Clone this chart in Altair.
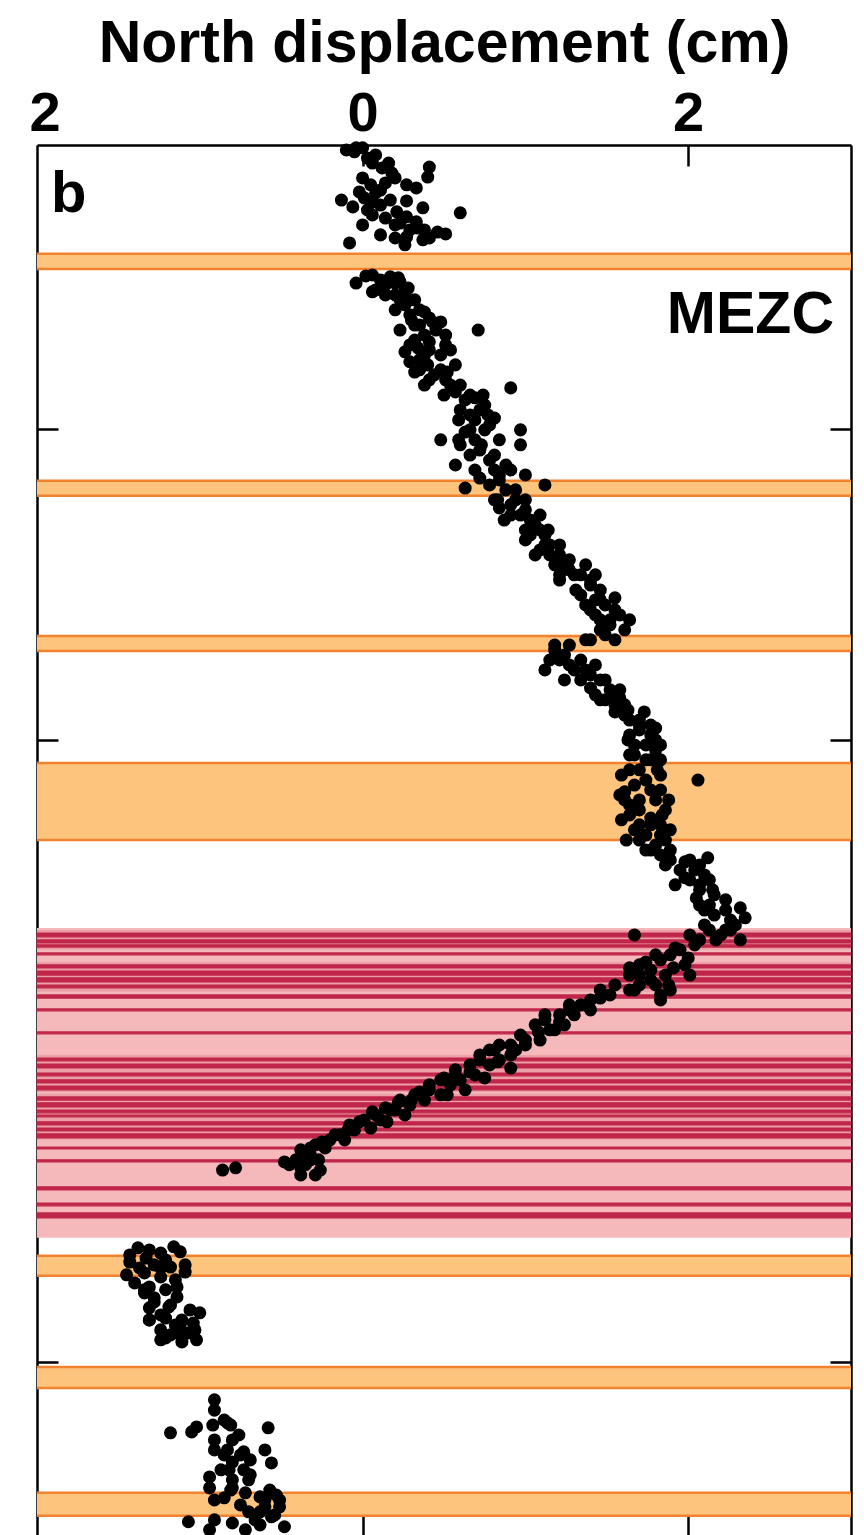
import altair as alt
import pandas as pd

# ---------------- data ----------------
# vertical variable: unlabelled time axis (ticks at 10, 20, 30, 40), increasing downward
T_DOMAIN = [0.87, 45.63]
T_TICKS = [10, 20, 30, 40]
X_DOMAIN = [-2, 3]
X_LABELS = [-2, 0, 2]

# orange bands (events)
ORANGE_START = [4.37, 11.67, 16.66, 20.74, 36.59, 40.16, 44.21]
ORANGE_END = [4.86, 12.15, 17.14, 23.22, 37.23, 40.84, 44.95]

# pink zone (swarm), medium-shade clusters and dark individual lines
RED_START = [26.05]
RED_END = [36.01]
RED_MID_START = [26.11, 27.14, 30.13, 31.38]
RED_MID_END = [26.75, 28.10, 31.32, 32.86]
RED_DARK_START = [26.21, 26.43, 26.59, 26.85, 27.23, 27.43, 27.65, 27.88, 28.20, 28.65,
                  29.39, 30.23, 30.42, 30.71, 30.93, 31.13, 31.48, 31.67, 31.90, 32.06,
                  32.28, 32.48, 32.67, 33.09, 33.50, 34.37, 34.89, 35.21]
RED_DARK_END = [26.33, 26.53, 26.66, 26.91, 27.33, 27.56, 27.78, 27.97, 28.30, 28.71,
                29.45, 30.32, 30.55, 30.80, 31.03, 31.25, 31.58, 31.80, 31.99, 32.12,
                32.38, 32.57, 32.80, 33.15, 33.57, 34.47, 34.98, 35.37]

# north displacement samples (cm) and their times
SEG_A_T = [1.03, 1.09, 0.96, 1.19, 1.45, 1.45, 1.77, 1.93, 1.58, 1.90, 2.09, 2.32, 2.41,
           2.15, 2.25, 2.64, 2.57, 2.70, 2.86, 2.67, 2.89, 2.96, 3.12, 3.22, 3.02, 3.18,
           3.05, 3.44, 3.38, 3.34, 3.54, 3.60, 3.67, 3.73, 4.02, 3.86, 3.83, 3.92, 4.08,
           0.96, 1.29, 1.61, 1.93, 2.15, 2.38, 2.64, 2.80, 3.44, 3.60, 3.76, 3.86]
SEG_A_X = [-0.10, -0.05, 0.00, 0.08, 0.06, 0.16, 0.18, 0.00, 0.41, 0.40, 0.14, 0.11, 0.08,
           0.27, 0.33, -0.13, 0.01, 0.06, -0.06, 0.27, 0.37, 0.03, 0.06, 0.14, 0.21, 0.27,
           0.60, 0.00, 0.23, 0.33, 0.34, 0.38, 0.46, 0.51, -0.08, 0.20, 0.27, 0.37, 0.26,
           -0.04, 0.03, 0.12, 0.20, 0.05, -0.02, 0.17, 0.11, 0.20, 0.29, 0.11, 0.41]

SEG_B_T = [5.31, 5.53, 5.11, 5.27, 5.69, 5.85, 5.37, 6.01, 6.17, 6.43, 6.66, 6.56, 6.98,
           6.82, 7.30, 7.46, 7.30, 7.78, 8.10, 7.94, 8.42, 8.17, 8.59, 8.91, 9.23, 9.39,
           9.71, 8.68, 9.87, 10.10, 10.35, 10.51, 10.68, 10.84, 10.51, 11.16, 11.32, 11.48,
           11.80, 11.80, 11.90, 12.28, 12.44, 12.77, 12.93, 12.93, 13.25, 13.57, 13.73,
           14.05, 14.37, 14.69, 15.02, 14.86, 15.50, 15.82, 15.34, 16.30, 15.98, 16.46,
           16.78, 16.46, 16.78, 16.95, 17.11, 17.43, 17.75, 17.91, 18.07, 17.75, 18.39,
           18.71, 18.87, 19.20, 19.36, 19.52, 19.84, 20.16, 20.00, 20.48, 20.64, 20.96,
           21.29, 21.13, 21.67, 21.93, 22.25, 22.41, 22.73, 22.89, 23.22, 23.38, 21.29,
           23.70, 23.86, 24.18, 24.50, 24.66, 24.82, 24.50, 23.79, 25.31, 25.63, 25.79,
           25.72, 25.95, 26.11, 26.43, 26.27, 26.27, 26.75, 27.07, 27.23, 27.56, 27.88,
           28.04, 27.56, 28.20,
           5.05, 5.21, 5.31, 5.53, 5.69, 5.85, 5.85, 6.33, 6.24, 6.66, 6.82, 7.14, 7.20,
           7.62, 7.62, 8.10, 8.26, 8.42,
           8.81, 9.07, 9.00, 9.39, 9.55, 9.65, 10.03, 10.35, 10.35, 11.00, 11.16, 11.32,
           11.64, 11.96,
           12.54, 12.28, 12.60, 13.09, 13.41, 13.41, 13.73, 13.89, 14.05, 14.37,
           14.53, 14.69, 14.86, 15.18, 15.50, 15.66, 15.82, 15.98, 16.14,
           16.95, 17.27, 17.43, 17.75, 17.59, 18.07, 18.33, 18.39, 18.71, 18.87,
           19.36, 19.68, 19.84, 20.16, 20.32, 20.64, 20.96,
           21.45, 21.61, 21.93, 21.93, 22.25, 22.51, 22.73, 22.89, 23.06, 23.22, 23.54,
           23.54, 23.92, 24.18, 24.34, 24.66, 24.98, 25.31, 25.47, 25.95, 26.27, 26.43, 26.11,
           26.91, 27.23, 27.40, 27.56, 27.88, 28.04, 28.36,
           5.08, 5.14, 5.59, 5.47, 6.17, 6.50, 6.56, 6.82, 6.98,
           7.52, 7.39, 7.46, 7.94, 7.84, 8.17, 8.59,
           8.59, 8.91, 8.91, 9.71, 9.55, 10.03, 10.35, 10.03,
           10.51, 10.84, 11.32, 11.58, 11.48, 11.96, 12.28,
           12.28, 12.77, 12.77, 13.25, 13.25, 13.73, 14.05, 14.21,
           14.37, 14.69, 14.69, 15.18, 15.43, 15.66, 16.14, 16.14, 16.62, 16.78,
           17.43, 17.59, 18.07, 18.07, 18.55, 18.71, 18.65,
           19.10, 19.04, 19.10, 19.52, 19.62, 20.00, 20.16, 20.48, 20.64,
           21.13, 20.96, 21.77, 21.61, 22.09, 21.93, 22.57, 22.41, 22.73, 23.22, 23.06, 23.54,
           24.02, 23.86, 24.02, 24.43, 24.82, 25.08, 25.14, 25.47, 25.40, 26.11, 26.43,
           26.59, 26.69, 26.91, 27.01, 27.14, 27.33, 27.33, 27.72, 28.04, 27.88, 27.56]
SEG_B_X = [-0.04, 0.08, 0.17, 0.23, 0.20, 0.29, 0.14, 0.26, 0.35, 0.41, 0.32, 0.48, 0.38,
           0.71, 0.29, 0.41, 0.51, 0.35, 0.48, 0.57, 0.41, 0.32, 0.54, 0.66, 0.75, 0.60,
           0.69, 0.91, 0.78, 0.63, 0.48, 0.60, 0.72, 0.81, 0.97, 0.57, 0.69, 0.84,
           0.78, 1.12, 0.63, 0.81, 0.91, 0.97, 1.03, 0.87, 1.09, 1.00, 1.12,
           1.15, 1.24, 1.30, 1.40, 1.21, 1.46, 1.55, 1.34, 1.52, 1.43, 1.46,
           1.55, 1.61, 1.40, 1.27, 1.18, 1.21, 1.30, 1.40, 1.49, 1.12, 1.58,
           1.46, 1.55, 1.61, 1.70, 1.77, 1.64, 1.74, 1.80, 1.67, 1.77, 1.64,
           1.74, 1.83, 1.61, 1.70, 1.86, 1.64, 1.77, 1.89, 1.70, 1.80, 2.06,
           1.83, 1.89, 1.95, 2.01, 1.92, 2.07, 2.13, 2.12, 2.07, 2.16, 2.26,
           2.35, 2.10, 2.23, 2.32, 2.01, 1.67, 1.95, 1.83, 1.70, 1.64, 1.80,
           1.89, 2.01, 1.83,
           0.06, 0.11, 0.20, 0.26, 0.14, 0.23, 0.32, 0.29, 0.38, 0.35, 0.45, 0.32, 0.41,
           0.38, 0.48, 0.35, 0.44, 0.51,
           0.57, 0.63, 0.69, 0.72, 0.66, 0.81, 0.75, 0.69, 0.84, 0.78, 0.88, 0.91,
           0.84, 0.94,
           0.84, 0.94, 1.00, 1.06, 1.03, 1.12, 1.15, 1.09, 1.21, 1.18,
           1.27, 1.34, 1.40, 1.46, 1.43, 1.49, 1.40, 1.58, 1.52,
           1.18, 1.24, 1.34, 1.37, 1.43, 1.46, 1.40, 1.52, 1.55, 1.61,
           1.64, 1.70, 1.77, 1.67, 1.80, 1.74, 1.70,
           1.67, 1.77, 1.61, 1.80, 1.70, 1.77, 1.83, 1.67, 1.74, 1.86, 1.77,
           1.89, 1.98, 2.04, 2.10, 2.07, 2.16, 2.13, 2.23, 2.29, 2.20, 2.07, 2.13,
           1.89, 1.98, 1.77, 1.86, 1.70, 1.64, 1.83,
           0.02, 0.22, 0.06, 0.28, 0.20, 0.30, 0.43, 0.23, 0.51,
           0.26, 0.34, 0.54, 0.40, 0.29, 0.52, 0.38,
           0.60, 0.50, 0.74, 0.59, 0.77, 0.66, 0.59, 0.97,
           0.73, 0.66, 0.81, 0.72, 1.00, 0.88, 0.83,
           1.00, 0.91, 1.09, 1.00, 1.14, 1.21, 1.06, 1.27,
           1.37, 1.21, 1.43, 1.31, 1.55, 1.37, 1.46, 1.64, 1.49, 1.37,
           1.15, 1.27, 1.24, 1.34, 1.43, 1.49, 1.58,
           1.55, 1.63, 1.73, 1.70, 1.80, 1.63, 1.83, 1.64, 1.83,
           1.59, 1.81, 1.58, 1.83, 1.64, 1.88, 1.59, 1.84, 1.70, 1.62, 1.83, 1.74,
           1.86, 2.01, 2.07, 1.98, 2.15, 2.05, 2.23, 2.10, 2.32, 2.26, 2.17,
           2.04, 1.92, 1.80, 2.00, 1.74, 1.64, 1.91, 1.77, 1.67, 1.88, 1.70]

SEG_C_T = [28.04, 28.36, 28.52, 28.84, 29.00, 29.16, 29.32, 29.49, 29.81, 29.97, 30.13,
           30.29, 30.45, 30.77, 30.93, 31.25, 31.41, 31.58, 31.90, 32.06, 32.22, 32.38,
           32.70, 32.86, 33.02, 33.18, 33.50, 33.66, 33.83, 33.99, 33.76, 33.83,
           28.20, 28.52, 28.84, 29.16, 29.32, 29.65, 29.81, 29.97, 30.29, 30.45, 30.55,
           30.77, 30.93, 31.09, 31.25, 31.41, 31.58, 31.74, 31.90, 32.06, 32.22, 32.48,
           32.54, 32.86, 33.12, 33.34, 33.66, 33.50, 33.99,
           27.88, 28.30, 28.68, 28.68, 29.07, 28.84, 29.39, 29.65, 29.81, 29.97, 30.13,
           30.35, 30.68, 30.87, 30.61, 30.87, 31.09, 31.41, 31.32, 31.58, 31.64, 31.83,
           31.96, 32.28, 32.28, 32.54, 32.70, 32.93, 33.12, 33.44, 33.57, 33.76, 33.50]
SEG_C_X = [1.46, 1.40, 1.27, 1.21, 1.12, 1.06, 1.18, 0.97, 0.84, 0.78, 0.91,
           0.72, 0.66, 0.57, 0.48, 0.41, 0.32, 0.23, 0.17, 0.08, 0.01, -0.08,
           -0.14, -0.20, -0.29, -0.38, -0.32, -0.45, -0.26, -0.38, -0.78, -0.86,
           1.52, 1.34, 1.30, 1.24, 1.15, 1.09, 1.00, 0.94, 0.84, 0.78, 0.91,
           0.69, 0.60, 0.54, 0.63, 0.48, 0.38, 0.29, 0.20, 0.26, 0.11, 0.05,
           -0.05, -0.11, -0.23, -0.32, -0.35, -0.41, -0.29,
           1.55, 1.46, 1.40, 1.27, 1.21, 1.12, 1.08, 1.00, 0.91, 0.81, 0.72,
           0.83, 0.66, 0.75, 0.57, 0.50, 0.41, 0.52, 0.35, 0.30, 0.22, 0.14,
           0.06, 0.15, -0.02, -0.09, -0.17, -0.25, -0.32, -0.38, -0.48, -0.38, -0.27]

SEG_D_T = [36.33, 36.56, 36.66, 36.50, 36.30, 36.46, 36.72, 36.88, 36.95, 37.11, 37.20,
           37.14, 37.27, 37.46, 37.59, 37.59, 37.78, 37.68, 37.94, 37.91, 38.26, 38.23,
           38.42, 38.65, 38.59, 38.65, 38.75, 38.97, 39.07, 39.23, 39.36, 39.29, 39.07,
           36.40, 36.79, 36.98, 37.36, 38.07, 38.49, 38.81, 39.13,
           36.79, 36.98, 36.88, 37.68, 38.17, 38.33, 38.65, 38.81, 38.97, 39.29]
SEG_D_X = [-1.38, -1.43, -1.33, -1.24, -1.16, -1.12, -1.21, -1.28, -1.18, -1.09, -1.45,
           -1.34, -1.24, -1.40, -1.31, -1.14, -1.34, -1.21, -1.28, -1.14, -1.31, -1.19,
           -1.00, -1.31, -1.21, -1.11, -1.04, -1.24, -1.14, -1.21, -1.11, -1.02, -1.07,
           -1.31, -1.21, -1.37, -1.15, -1.28, -1.24, -1.12, -1.18,
           -1.43, -1.24, -1.09, -1.34, -1.18, -1.06, -1.31, -1.15, -1.03, -1.24]

SEG_E_T = [41.22, 42.28, 42.25, 42.09, 42.03, 41.96, 42.12, 42.51, 42.51, 42.83, 42.89,
           42.83, 43.22, 43.25, 43.47, 43.47, 43.70, 43.79, 43.79, 44.05, 44.05, 44.37,
           44.21, 44.34, 44.28, 44.66, 44.82, 44.66, 44.98, 45.14, 45.08, 45.18, 45.24, 45.30,
           41.87, 42.35, 42.99, 43.15, 44.12, 44.44, 44.92, 45.08,
           41.55, 42.03, 42.83, 42.99, 43.47, 43.63, 44.44, 44.60, 44.12, 44.44, 44.82,
           45.40, 45.40]
SEG_E_X = [-0.91, -1.18, -1.05, -1.02, -0.92, -0.83, -0.58, -0.91, -0.80, -0.83, -0.73,
           -0.60, -0.80, -0.56, -0.87, -0.73, -0.94, -0.80, -0.70, -0.94, -0.80, -0.85,
           -0.72, -0.63, -0.53, -0.60, -0.70, -0.51, -0.56, -1.07, -0.91, -0.80, -0.63, -0.48,
           -0.85, -0.76, -0.85, -0.69, -0.81, -0.60, -0.54, -0.66,
           -0.91, -0.81, -0.91, -0.75, -0.82, -0.69, -0.91, -0.75, -0.57, -0.51, -0.63,
           -0.94, -0.72]

TITLE = "North displacement (cm)"
PANEL_LABEL = "b"
STATION = "MEZC"

# ---------------- build tables ----------------
dots = pd.DataFrame({
    "t": SEG_A_T + SEG_B_T + SEG_C_T + SEG_D_T + SEG_E_T,
    "x": SEG_A_X + SEG_B_X + SEG_C_X + SEG_D_X + SEG_E_X,
})
orange = pd.DataFrame({"t0": ORANGE_START, "t1": ORANGE_END})
orange_edges = pd.DataFrame({"t": ORANGE_START + ORANGE_END})
red = pd.DataFrame({"t0": RED_START, "t1": RED_END})
red_mid = pd.DataFrame({"t0": RED_MID_START, "t1": RED_MID_END})
red_dark = pd.DataFrame({"t0": RED_DARK_START, "t1": RED_DARK_END})

W, H = 814, 1392
FONT = "Liberation Sans"

xs = alt.Scale(domain=X_DOMAIN, nice=False, zero=False)
ys = alt.Scale(domain=T_DOMAIN, reverse=True, nice=False, zero=False)

ORANGE_FILL = "#FDC47E"
ORANGE_LINE = "#F2822E"
PINK_FILL = "#F5B9BC"
RED_MID = "#E48B96"
RED_LINE = "#C0264B"


def band(df, color, opacity=1.0, stroke_width=0):
    mark = dict(fill=color, opacity=opacity)
    if stroke_width:
        mark.update(stroke=color, strokeWidth=stroke_width)
    return alt.Chart(df).mark_rect(**mark).encode(
        y=alt.Y("t0:Q", scale=ys, axis=None), y2="t1:Q")


orange_rect = band(orange, ORANGE_FILL)
orange_rule = alt.Chart(orange_edges).mark_rule(color=ORANGE_LINE, strokeWidth=2.5).encode(
    y=alt.Y("t:Q", scale=ys, axis=None))
red_rect = band(red, PINK_FILL)
red_mid_rect = band(red_mid, RED_MID, 0.55)
red_dark_rect = band(red_dark, RED_LINE, 1.0, 1.2)

tick_style = dict(labels=False, title=None, grid=False, domain=True, domainColor="black",
                  domainWidth=2.5, ticks=True, tickColor="black", tickWidth=2.5, tickSize=21)

points = alt.Chart(dots).mark_circle(size=170, color="black", opacity=1).encode(
    x=alt.X("x:Q", scale=xs, axis=alt.Axis(
        orient="top", values=X_LABELS, title=TITLE, grid=False, domain=False,
        ticks=False, tickSize=0, labelFont=FONT, labelFontSize=56, labelFontWeight="bold",
        labelColor="black", labelBaseline="alphabetic", labelPadding=15, labelFlush=True,
        labelFlushOffset=8,
        labelExpr="datum.value == -2 ? '2' : datum.label",
        titleFont=FONT, titleFontSize=59, titleFontWeight="bold", titleColor="black",
        titleBaseline="alphabetic", titleY=-84, titleX=W / 2, titleAlign="center")),
    y=alt.Y("t:Q", scale=ys, axis=alt.Axis(orient="right", offset=-W, values=T_TICKS, **tick_style)),
)

carrier1 = alt.Chart(dots).mark_circle(size=0, opacity=0).encode(
    x=alt.X("x:Q", scale=xs, axis=alt.Axis(orient="bottom", offset=-H, values=[0, 2], **tick_style)),
    y=alt.Y("t:Q", scale=ys, axis=alt.Axis(orient="left", offset=-W, values=T_TICKS, **tick_style)),
)
carrier2 = alt.Chart(dots).mark_circle(size=0, opacity=0).encode(
    x=alt.X("x:Q", scale=xs, axis=alt.Axis(orient="top", offset=-H, values=[0, 2], **tick_style)),
    y=alt.Y("t:Q", scale=ys, axis=None),
)

labels = pd.DataFrame({"label": [PANEL_LABEL]})
panel_text = alt.Chart(labels).mark_text(
    align="left", baseline="alphabetic", font=FONT, fontSize=58, fontWeight="bold", color="black"
).encode(x=alt.value(14), y=alt.value(67), text="label:N")
station = pd.DataFrame({"label": [STATION]})
station_text = alt.Chart(station).mark_text(
    align="right", baseline="alphabetic", font=FONT, fontSize=59, fontWeight="bold", color="black"
).encode(x=alt.value(797), y=alt.value(188), text="label:N")

chart = alt.layer(
    orange_rect, orange_rule, red_rect, red_mid_rect, red_dark_rect, points, carrier1, carrier2,
    panel_text, station_text
).resolve_axis(x="independent", y="independent").properties(
    width=W, height=H,
    autosize=alt.AutoSizeParams(type="none"),
    padding={"left": 29, "top": 137, "right": 5, "bottom": 0},
).configure_view(stroke=None)

chart.save("out.html", embed_options={"renderer": "svg", "actions": False})
